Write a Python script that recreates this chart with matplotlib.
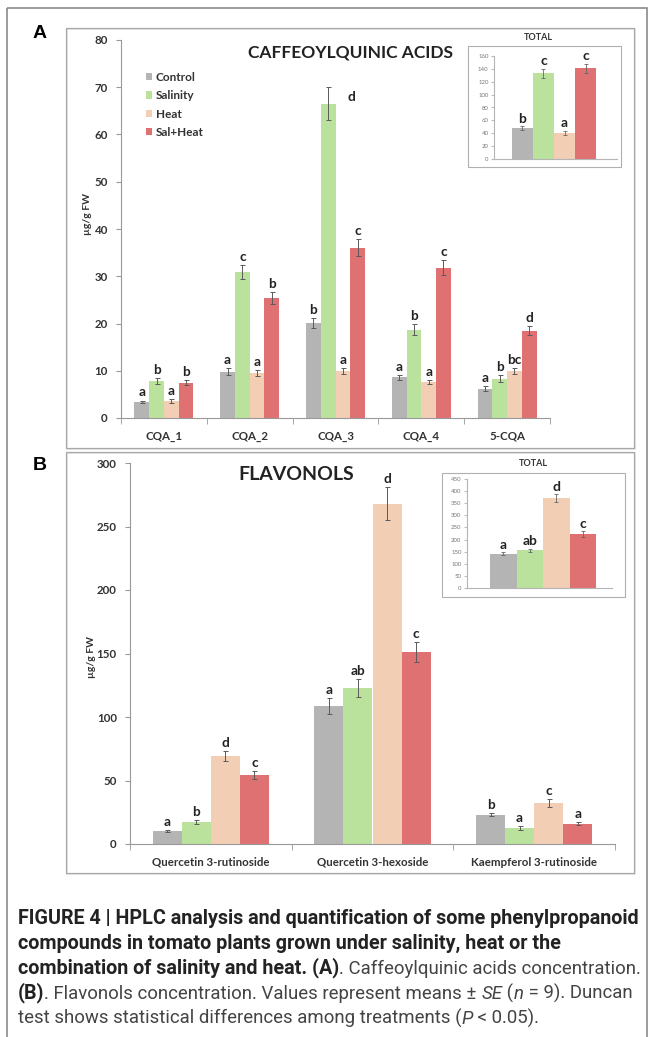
#HPLC phenylpropanoids figure
#caffeoylquinic acids (A) and flavonols (B), with TOTAL insets

import numpy as np
import matplotlib.pyplot as plt
from matplotlib.patches import Rectangle

#treatments and colours
treatments = ['Control', 'Salinity', 'Heat', 'Sal+Heat']
colors = ['#b4b4b4', '#bbe29c', '#f2ceb5', '#e07173']

#panel A - caffeoylquinic acids (ug/g FW)
cqa_cats = ['CQA_1', 'CQA_2', 'CQA_3', 'CQA_4', '5-CQA']
cqa_control = [3.4, 9.8, 20.1, 8.6, 6.2]
cqa_salinity = [7.8, 30.9, 66.5, 18.7, 8.3]
cqa_heat = [3.6, 9.5, 9.9, 7.6, 9.9]
cqa_salheat = [7.5, 25.4, 36.0, 31.8, 18.5]
cqa_err_control = [0.3, 0.7, 1.0, 0.5, 0.5]
cqa_err_salinity = [0.6, 1.5, 3.5, 1.1, 0.7]
cqa_err_heat = [0.4, 0.7, 0.6, 0.5, 0.6]
cqa_err_salheat = [0.6, 1.3, 1.8, 1.6, 1.0]
cqa_let_control = ['a', 'a', 'b', 'a', 'a']
cqa_let_salinity = ['b', 'c', 'd', 'b', 'b']
cqa_let_heat = ['a', 'a', 'a', 'a', 'bc']
cqa_let_salheat = ['b', 'b', 'c', 'c', 'd']

#panel A inset - total CQA
cqa_total = [48, 133, 41, 141]
cqa_total_err = [3, 7, 3, 7]
cqa_total_let = ['b', 'c', 'a', 'c']

#panel B - flavonols (ug/g FW)
flav_cats = ['Quercetin 3-rutinoside', 'Quercetin 3-hexoside', 'Kaempferol 3-rutinoside']
flav_control = [10.4, 108.6, 23.2]
flav_salinity = [17.5, 123.0, 12.8]
flav_heat = [69.0, 268.0, 32.4]
flav_salheat = [54.5, 151.0, 16.0]
flav_err_control = [0.8, 6.0, 1.5]
flav_err_salinity = [1.5, 7.0, 1.5]
flav_err_heat = [4.0, 13.0, 3.0]
flav_err_salheat = [3.0, 8.0, 1.2]
flav_let_control = ['a', 'a', 'b']
flav_let_salinity = ['b', 'ab', 'a']
flav_let_heat = ['d', 'd', 'c']
flav_let_salheat = ['c', 'c', 'a']

#panel B inset - total flavonols
flav_total = [142, 155, 370, 222]
flav_total_err = [6, 8, 17, 12]
flav_total_let = ['a', 'ab', 'd', 'c']

W, H = 654, 1037
FONT = 'Lato'
CAPFONT = 'Roboto'
plt.rcParams['font.family'] = [FONT, 'DejaVu Sans']

fig = plt.figure(figsize=(W / 100, H / 100), dpi=100)


def box(x0, y0, x1, y1):
    #pixel box (top-left origin) -> figure fraction rect
    return [x0 / W, 1 - y1 / H, (x1 - x0) / W, (y1 - y0) / H]


#background layer in pixel coordinates for frames, labels and caption
bg = fig.add_axes([0, 0, 1, 1], zorder=-1)
bg.set_xlim(0, W)
bg.set_ylim(H, 0)
bg.axis('off')
bg.add_patch(Rectangle((7, 8), 640, 1040, fill=False, ec='#8a8a8a', lw=1.2))
for y0, y1 in [(28, 448), (452, 873)]:
    bg.add_patch(Rectangle((67, y0 + 1), 568, y1 - y0, fill=False, ec='#e2e2e2', lw=1.2))
    bg.add_patch(Rectangle((66, y0), 568, y1 - y0, fill=False, ec='#a8a8a8', lw=0.9))
bg.add_patch(Rectangle((468, 46), 153, 121, fill=False, ec='#b0b0b0', lw=0.8))
bg.add_patch(Rectangle((442, 473), 183, 124, fill=False, ec='#b0b0b0', lw=0.8))

bg.text(40, 33, 'A', fontsize=14, fontweight='bold', ha='center', va='center', family='Liberation Sans')
bg.text(40, 465, 'B', fontsize=14, fontweight='bold', ha='center', va='center', family='Liberation Sans')
bg.text(350, 53, 'CAFFEOYLQUINIC ACIDS', fontsize=12.5, fontweight='bold', ha='center', va='center', color='#222')
bg.text(296, 474, 'FLAVONOLS', fontsize=14, fontweight='bold', ha='center', va='center', color='#222')
bg.text(538, 38, 'TOTAL', fontsize=6.5, fontweight='bold', ha='center', va='center', color='#333')
bg.text(533, 463, 'TOTAL', fontsize=6.5, fontweight='bold', ha='center', va='center', color='#333')
bg.text(88, 214, 'µg/g FW', fontsize=7.5, fontweight='bold', rotation=90, ha='center', va='center', color='#333')
bg.text(92, 657, 'µg/g FW', fontsize=7.5, fontweight='bold', rotation=90, ha='center', va='center', color='#333')

err_kw = dict(ecolor='#5a5a5a', elinewidth=0.7, capsize=1.8, capthick=0.7)


def style_axis(ax, small=False):
    for s in ['top', 'right']:
        ax.spines[s].set_visible(False)
    for s in ['left', 'bottom']:
        ax.spines[s].set_color('#b5b5b5' if small else '#999999')
        ax.spines[s].set_linewidth(0.8)
    ax.set_facecolor('none')


def grouped(ax, cats, vals, errs, lets, width, letsize, side=None):
    #side: (treatment, category) whose letter sits beside the bar instead of on top
    x = np.arange(len(cats))
    for i in range(len(treatments)):
        pos = x + (i - 1.5) * width
        ax.bar(pos, vals[i], width, color=colors[i], yerr=errs[i], error_kw=err_kw,
               label=treatments[i], zorder=2)
        for j in range(len(cats)):
            top = vals[i][j] + errs[i][j]
            off = (0, 1.5)
            if side == (i, j):
                off = (17, -11)
            ax.annotate(lets[i][j], (pos[j], top), xytext=off, textcoords='offset points',
                        ha='center', va='bottom', fontsize=letsize, fontweight='bold', color='#222')
    ax.set_xlim(-0.5, len(cats) - 0.5)
    ax.set_xticks(x)
    ax.set_xticklabels(cats, fontsize=8.3, fontweight='bold', color='#333')
    ax.set_xticks(np.arange(len(cats) + 1) - 0.5, minor=True)
    ax.tick_params(axis='x', which='major', length=0, pad=9)
    ax.tick_params(axis='x', which='minor', length=4, color='#999999', direction='out')
    ax.tick_params(axis='y', length=3.5, color='#999999', labelsize=8.3, pad=6)
    for t in ax.get_yticklabels():
        t.set_fontweight('bold')
        t.set_color('#333')


def total(ax, vals, errs, lets, ymax, step, xlim):
    x = np.arange(len(vals))
    ax.bar(x, vals, 1.0, color=colors, yerr=errs, error_kw=dict(ecolor='#666', elinewidth=0.6,
                                                               capsize=1.2, capthick=0.6), zorder=2)
    for j in range(len(vals)):
        ax.annotate(lets[j], (x[j], vals[j] + errs[j]), xytext=(0, 1), textcoords='offset points',
                    ha='center', va='bottom', fontsize=10, fontweight='bold', color='#222')
    ax.set_xlim(*xlim)
    ax.set_ylim(0, ymax)
    ax.set_yticks(np.arange(0, ymax + 1, step))
    ax.set_xticks([])
    ax.tick_params(axis='y', length=2, color='#bbbbbb', labelsize=4.3, labelcolor='#777', pad=2)
    style_axis(ax, small=True)


#panel A
ax_a = fig.add_axes(box(121, 40, 550, 418))
style_axis(ax_a)
grouped(ax_a, cqa_cats,
        [cqa_control, cqa_salinity, cqa_heat, cqa_salheat],
        [cqa_err_control, cqa_err_salinity, cqa_err_heat, cqa_err_salheat],
        [cqa_let_control, cqa_let_salinity, cqa_let_heat, cqa_let_salheat],
        0.172, 9.8, side=(1, 2))
ax_a.set_ylim(0, 80)
ax_a.set_yticks(np.arange(0, 81, 10))
leg = ax_a.legend(loc='upper left', bbox_to_anchor=(140, 66), bbox_transform=bg.transData,
                  frameon=False, handlelength=0.55, handleheight=0.55, handletextpad=0.3,
                  labelspacing=0.62, borderpad=0, prop=dict(family=FONT, weight='bold', size=8.5))
for t in leg.get_texts():
    t.set_color('#333')

#panel A inset
ax_at = fig.add_axes(box(494, 56, 617, 159))
total(ax_at, cqa_total, cqa_total_err, cqa_total_let, 160, 20, (-1.34, 4.48))

#panel B
ax_b = fig.add_axes(box(130, 463, 615, 844))
style_axis(ax_b)
grouped(ax_b, flav_cats,
        [flav_control, flav_salinity, flav_heat, flav_salheat],
        [flav_err_control, flav_err_salinity, flav_err_heat, flav_err_salheat],
        [flav_let_control, flav_let_salinity, flav_let_heat, flav_let_salheat],
        0.18, 9.8)
ax_b.set_ylim(0, 300)
ax_b.set_yticks(np.arange(0, 301, 50))

#panel B inset
ax_bt = fig.add_axes(box(467, 479, 612, 588))
total(ax_bt, flav_total, flav_total_err, flav_total_let, 450, 50, (-1.37, 4.1))

#caption with mixed weights, each piece chained after the previous one
cap_lines = [
    [('FIGURE 4 | HPLC analysis and quantification of some phenylpropanoid', 'bold')],
    [('compounds in tomato plants grown under salinity, heat or the', 'bold')],
    [('combination of salinity and heat. (A)', 'bold'), ('. Caffeoylquinic acids concentration.', 'normal')],
    [('(B)', 'bold'), ('. Flavonols concentration. Values represent means ± ', 'normal'), ('SE', 'italic'),
     (' (', 'normal'), ('n', 'italic'), (' = 9). Duncan', 'normal')],
    [('test shows statistical differences among treatments (', 'normal'), ('P', 'italic'),
     (' < 0.05).', 'normal')],
]
cap_y = [918, 943, 968, 993, 1018]
for line, y in zip(cap_lines, cap_y):
    prev = None
    for txt, kind in line:
        kw = dict(fontsize=14.2 if kind == 'bold' else 13.4, family=CAPFONT,
                  color='#222' if kind == 'bold' else '#444',
                  fontweight='bold' if kind == 'bold' else 'normal',
                  fontstyle='italic' if kind == 'italic' else 'normal')
        if prev is None:
            prev = bg.text(18, y, txt, ha='left', va='center', **kw)
        else:
            prev = bg.annotate(txt, xy=(1, 0), xycoords=prev, ha='left', va='bottom', **kw)

fig.savefig('out.png', dpi=100)
